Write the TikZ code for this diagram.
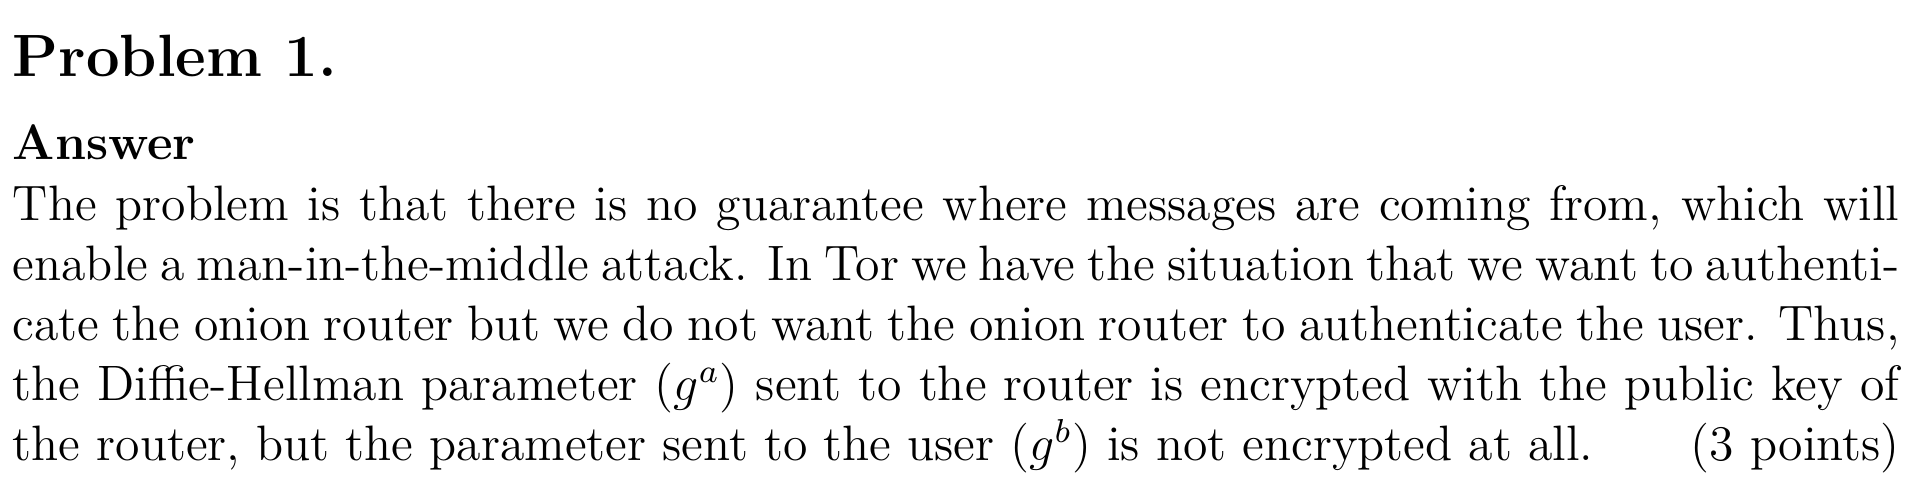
\documentclass[tikz,border=0pt,12pt]{standalone}
\usepackage{amsmath,amssymb}
\hyphenation{authenti-cate}

\begin{document}
\begin{tikzpicture}
    % Frame
    \useasboundingbox (0,0) rectangle (464pt,-117.9pt);

    % Styles
    \tikzset{HeadStyle/.style = {anchor=base west, inner sep=0pt, font=\bfseries},
             TextStyle/.style = {anchor=base west, inner sep=0pt, text width=455pt, align=justify}}

    % Headings
    \node[HeadStyle, font=\large\bfseries] (problem) at (2.9pt,-18.4pt) {Problem 1.};
    \node[HeadStyle] (answer) at (2.9pt,-38.4pt) {Answer};

    % Answer text
    \node[TextStyle] (body) at (2.9pt,-53.1pt) {\noindent The problem is that there is no guarantee where messages are coming from, which will enable a man-in-the-middle attack. In Tor we have the situation that we want to authenticate the onion router but we do not want the onion router to authenticate the user. Thus, the Diffie-Hellman parameter ($g^a$) sent to the router is encrypted with the public key of the router, but the parameter sent to the user ($g^b$) is not encrypted at all.\hfill\mbox{(3 points)}};
\end{tikzpicture}
\end{document}
